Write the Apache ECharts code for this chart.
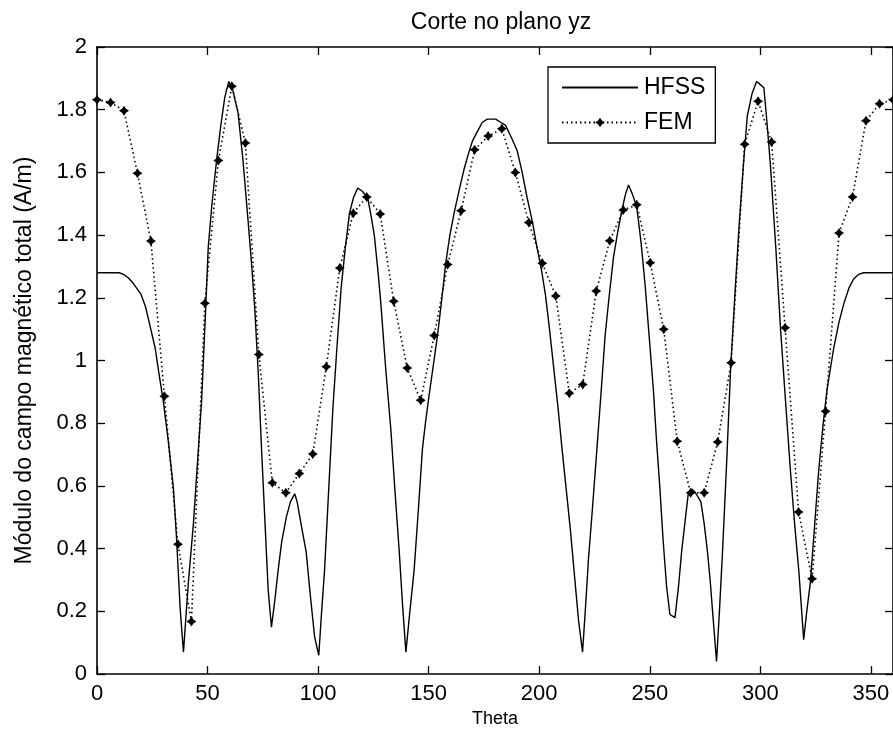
<!DOCTYPE html>
<html>
<head>
<meta charset="utf-8">
<script src="https://cdn.jsdelivr.net/npm/echarts@6/dist/echarts.min.js"></script>
<style>
html,body{margin:0;padding:0;background:#fff;}
#chart{width:893px;height:733px;}
</style>
</head>
<body>
<div id="chart"></div>
<script>
// HFSS (solid line) — theta (deg) and field magnitude (A/m)
var hfssTheta = [0,5,10,12,14,16,18,20,22,24,26.3,28,30,32.3,34.6,36,37.6,39.1,41.3,43.6,45.5,47.3,49,50.3,52,54.1,56,57.8,59.6,61.5,63.8,66,68.4,70,71.4,73,74.4,76,77.4,78.9,80.5,81.9,83.5,85.6,87.5,89.4,90.5,92.5,94.6,96.5,98.4,100.3,101.5,102.9,104.8,106.7,108.5,110.4,112.3,114.2,116,117.9,120,122.4,124,125.4,127,128.4,130.5,132.9,134.8,136.7,138.2,139.7,141.5,143.4,145.3,147.2,148.7,150.2,152,154,156,157.7,159.6,161.5,164,166,168,169.8,172,174.3,176.5,178.8,180.3,182.5,184.8,187.5,190,192.3,194.5,197,199,201,202.8,204.5,206.5,208.5,210.3,212.2,214.1,216,217.8,219.6,221,222.3,224.2,226.1,228,229.8,231.7,233.6,235.5,237.4,239,240.4,242.2,244.1,246,247.9,249.8,251.6,253,254.6,256,257.6,259.1,261.4,263,264.4,266,267.4,269,270.5,273.1,274.6,276.1,277.3,278.4,280.2,281.5,282.9,284.8,286.6,288.5,290.4,292.3,294.1,296.2,298.3,300,301.6,303,304.6,307,309.1,311.4,313.6,315.5,317.4,319.6,321,322.6,324.5,326.4,328.3,330.2,333.2,335.5,337.7,340,342.2,344.5,346.7,350,355,360];
var hfssValues = [1.28,1.28,1.28,1.275,1.265,1.25,1.23,1.21,1.17,1.11,1.04,0.96,0.87,0.74,0.59,0.43,0.21,0.07,0.29,0.48,0.68,0.87,1.14,1.36,1.50,1.64,1.75,1.84,1.89,1.86,1.79,1.64,1.44,1.30,1.16,0.95,0.72,0.48,0.27,0.15,0.24,0.33,0.42,0.50,0.55,0.575,0.55,0.47,0.39,0.25,0.12,0.06,0.19,0.33,0.59,0.85,1.04,1.23,1.36,1.47,1.52,1.55,1.54,1.52,1.46,1.40,1.29,1.18,0.98,0.78,0.58,0.39,0.22,0.07,0.20,0.33,0.52,0.72,0.81,0.89,0.98,1.08,1.20,1.31,1.40,1.47,1.55,1.61,1.66,1.70,1.73,1.76,1.77,1.77,1.77,1.76,1.75,1.71,1.67,1.60,1.52,1.44,1.36,1.29,1.21,1.11,0.98,0.85,0.72,0.59,0.46,0.31,0.17,0.07,0.22,0.37,0.54,0.72,0.90,1.08,1.21,1.33,1.41,1.48,1.53,1.56,1.53,1.49,1.38,1.24,1.07,0.91,0.75,0.59,0.43,0.28,0.19,0.18,0.28,0.39,0.49,0.575,0.59,0.58,0.55,0.48,0.39,0.30,0.20,0.04,0.20,0.39,0.68,0.98,1.21,1.43,1.62,1.78,1.85,1.89,1.88,1.87,1.76,1.62,1.36,1.105,0.87,0.65,0.48,0.33,0.11,0.20,0.29,0.47,0.65,0.79,0.91,1.04,1.12,1.18,1.23,1.26,1.275,1.28,1.28,1.28,1.28];

// FEM (dotted line with markers)
var femTheta = [0,6.1,12.2,18.3,24.4,30.5,36.6,42.7,48.8,54.9,61.0,67.1,73.2,79.3,85.4,91.5,97.6,103.7,109.8,115.9,122.0,128.1,134.2,140.3,146.4,152.5,158.6,164.7,170.8,176.9,183.1,189.2,195.3,201.4,207.5,213.6,219.7,225.8,231.9,238.0,244.1,250.2,256.3,262.4,268.5,274.6,280.7,286.8,292.9,299.0,305.1,311.2,317.3,323.4,329.5,335.6,341.7,347.8,353.9,360];
var femValues = [1.832,1.823,1.797,1.597,1.381,0.886,0.414,0.168,1.183,1.638,1.875,1.694,1.019,0.610,0.578,0.640,0.702,0.980,1.295,1.470,1.522,1.467,1.189,0.976,0.873,1.080,1.306,1.478,1.672,1.716,1.739,1.600,1.440,1.310,1.206,0.896,0.924,1.222,1.382,1.480,1.497,1.312,1.100,0.743,0.578,0.578,0.740,0.993,1.690,1.827,1.697,1.105,0.517,0.304,0.838,1.407,1.522,1.765,1.819,1.832];

var xTickInterval = 50;
var yTickInterval = 0.2;

function pairs(xs, ys){ return xs.map(function(x,i){ return [x, ys[i]]; }); }

var FONT = 'Liberation Sans, Arial, sans-serif';
var chart = echarts.init(document.getElementById('chart'), null, {renderer:'canvas'});
function axLine(){ return {show:true, onZero:false, lineStyle:{color:'#000', width:1.6}}; }
function axTick(){ return {show:true, inside:true, length:8, lineStyle:{color:'#000', width:1.3}}; }
var starPath = 'path://M5,0 L7,3 L10,5 L7,7 L5,10 L3,7 L0,5 L3,3 Z';

chart.setOption({
  animation:false,
  backgroundColor:'#fff',
  title:{
    text:'Corte no plano yz', left:496, top:6, textAlign:'center',
    textStyle:{fontFamily:FONT, fontSize:23, fontWeight:'normal', color:'#000'}
  },
  legend:{
    left:548, top:67, orient:'vertical',
    backgroundColor:'#fff', borderColor:'#000', borderWidth:1.3,
    padding:[9,10,9,13], itemGap:12, itemWidth:76, itemHeight:12,
    textStyle:{fontFamily:FONT, fontSize:23, color:'#000', padding:[0,0,0,1]},
    data:[{name:'HFSS', itemStyle:{opacity:0}}, {name:'FEM'}]
  },
  grid:{left:97, top:47, right:-3, bottom:55, containLabel:false},
  xAxis:[{
    type:'value', min:0, max:360, interval:xTickInterval,
    name:'Theta', nameLocation:'middle', nameGap:33,
    nameTextStyle:{fontFamily:FONT, fontSize:18, color:'#000'},
    axisLine:axLine(), axisTick:axTick(), splitLine:{show:false},
    axisLabel:{fontFamily:FONT, fontSize:22, color:'#000', margin:9, showMaxLabel:false}
  },{
    type:'value', position:'top', min:0, max:360, interval:xTickInterval,
    axisLine:axLine(), axisTick:axTick(), splitLine:{show:false}, axisLabel:{show:false}
  }],
  yAxis:[{
    type:'value', min:0, max:2, interval:yTickInterval,
    name:'Módulo do campo magnético total (A/m)', nameLocation:'middle', nameGap:61,
    nameTextStyle:{fontFamily:FONT, fontSize:23, color:'#000'},
    axisLine:axLine(), axisTick:axTick(), splitLine:{show:false},
    axisLabel:{fontFamily:FONT, fontSize:22, color:'#000', margin:10}
  },{
    type:'value', position:'right', min:0, max:2, interval:yTickInterval,
    axisLine:axLine(), axisTick:axTick(), splitLine:{show:false}, axisLabel:{show:false}
  }],
  series:[{
    name:'HFSS', type:'line', data:pairs(hfssTheta, hfssValues),
    symbol:'none', clip:true,
    lineStyle:{color:'#000', width:1.4, type:'solid'},
    itemStyle:{color:'#000'}
  },{
    name:'FEM', type:'line', data:pairs(femTheta, femValues),
    symbol:starPath, symbolSize:10, showSymbol:true, clip:false,
    lineStyle:{color:'#000', width:1.6, type:[1.5,3]},
    itemStyle:{color:'#000'}
  }]
});
</script>
</body>
</html>
